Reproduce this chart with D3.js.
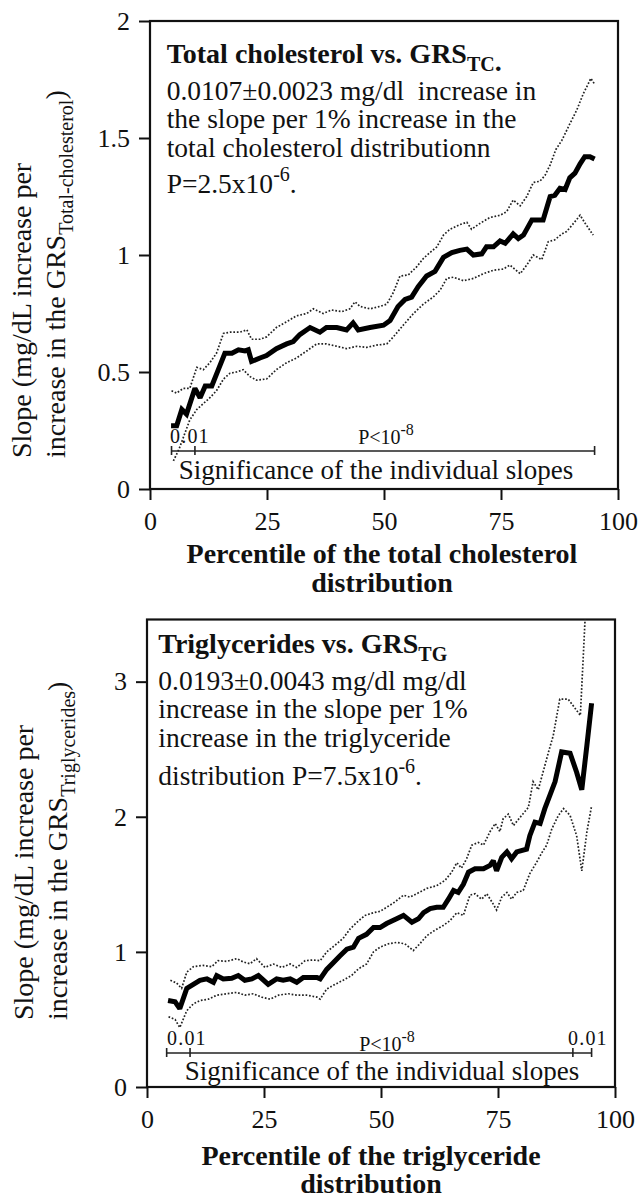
<!DOCTYPE html>
<html><head><meta charset="utf-8">
<script src="https://cdn.jsdelivr.net/npm/d3@7"></script>
<style>
html,body{margin:0;padding:0;background:#fff;}
svg text{font-family:'Liberation Serif','Times New Roman',Times,serif;fill:#111;white-space:pre;}
</style></head>
<body>
<svg id="chart" width="638" height="1199"></svg>
<script>
// ---------------- DATA ----------------
const xTicks = [0, 25, 50, 75, 100];
const xTickLabels = ["0", "25", "50", "75", "100"];
const yTicksTC = [0, 0.5, 1, 1.5, 2];
const yTickLabelsTC = ["0", "0.5", "1", "1.5", "2"];
const yTicksTG = [0, 1, 2, 3];
const yTickLabelsTG = ["0", "1", "2", "3"];

// Total cholesterol panel: [percentile, slope]
const tcMain = [[4.5,0.27],[5.7,0.27],[6.8,0.34],[7.8,0.32],[9.6,0.43],[10.7,0.39],[11.8,0.44],[13.2,0.44],[14.6,0.51],[16,0.58],[17.5,0.58],[18.9,0.595],[20.3,0.59],[21,0.595],[21.7,0.545],[23.5,0.56],[24.9,0.57],[27,0.60],[29.2,0.62],[30.6,0.63],[32,0.66],[34.2,0.69],[36.3,0.67],[37.7,0.69],[39.9,0.69],[42,0.68],[43.4,0.71],[44.5,0.68],[47,0.69],[49.9,0.70],[51.3,0.72],[53,0.78],[54.5,0.81],[55.9,0.82],[57.3,0.865],[59.1,0.91],[60.9,0.93],[62.7,0.99],[64.5,1.01],[66.2,1.02],[67.7,1.025],[69.1,1.00],[70.9,1.005],[71.9,1.035],[73.4,1.035],[74.8,1.06],[75.9,1.05],[77.6,1.09],[78.7,1.07],[79.8,1.085],[81.6,1.15],[83,1.15],[84,1.15],[85.5,1.25],[86.5,1.255],[87.6,1.285],[88.7,1.28],[89.7,1.33],[90.8,1.35],[91.9,1.39],[92.9,1.42],[94,1.42],[95,1.41]];
const tcUpper = [[4.6,0.42],[5.7,0.41],[7.1,0.43],[8.5,0.43],[10,0.52],[11.4,0.51],[12.8,0.54],[14.2,0.58],[15.7,0.665],[17.1,0.67],[19.2,0.67],[20.7,0.68],[21.7,0.64],[23.5,0.64],[24.9,0.65],[27,0.69],[29.2,0.715],[31.3,0.74],[33.5,0.75],[34.9,0.77],[37,0.75],[38.8,0.765],[41,0.758],[42.7,0.77],[43.8,0.80],[44.9,0.78],[47,0.77],[49.1,0.78],[50.6,0.79],[52,0.84],[53.4,0.91],[55.2,0.915],[57,0.95],[58.4,0.985],[59.8,1.01],[61.3,1.035],[62.7,1.085],[64.1,1.11],[66.2,1.13],[67.7,1.14],[68.7,1.11],[70.5,1.135],[72.6,1.16],[74.8,1.17],[76.2,1.185],[77.6,1.235],[79.1,1.21],[80.5,1.25],[81.9,1.31],[83.3,1.315],[84.4,1.34],[85.5,1.385],[86.7,1.45],[88,1.49],[89.7,1.56],[91.2,1.62],[92.6,1.69],[93.6,1.73],[94.2,1.755],[95,1.73]];
const tcLower = [[5,0.12],[6.2,0.17],[7.3,0.23],[8.5,0.295],[10,0.34],[11.4,0.365],[12.8,0.39],[14.2,0.42],[15.7,0.47],[17.1,0.495],[18.5,0.50],[19.9,0.51],[21.4,0.48],[22.8,0.465],[24.9,0.47],[27,0.51],[29.2,0.54],[31.3,0.56],[33.5,0.59],[35.6,0.62],[37.7,0.62],[39.9,0.61],[42,0.60],[44.2,0.61],[46.3,0.605],[48.4,0.615],[50.6,0.62],[52,0.65],[54.1,0.70],[56.3,0.75],[58.4,0.79],[60.5,0.82],[62,0.85],[63.4,0.90],[64.8,0.905],[67,0.89],[69.1,0.90],[71.2,0.92],[73.4,0.935],[75.5,0.94],[76.9,0.957],[79.1,0.92],[80.5,0.957],[81.9,1.0],[83.7,0.98],[85.1,1.057],[86.5,1.065],[88,1.09],[89,1.10],[90.5,1.135],[91.9,1.17],[93,1.135],[94.7,1.085]];

// Triglyceride panel: [percentile, slope]
const tgMain = [[4.5,0.64],[6,0.63],[7,0.58],[8.5,0.73],[9.9,0.76],[11.3,0.79],[12.8,0.80],[14.2,0.775],[14.9,0.825],[16.3,0.80],[18.1,0.805],[19.5,0.825],[20.9,0.79],[22.4,0.80],[23.8,0.825],[25.9,0.76],[27.7,0.80],[29.1,0.79],[30.6,0.80],[32,0.775],[33.4,0.81],[34.8,0.81],[36.3,0.81],[37,0.80],[38.4,0.87],[39.8,0.92],[41.2,0.97],[42.7,1.02],[44.1,1.035],[45.2,1.10],[46.9,1.13],[48.4,1.18],[49.8,1.18],[51.2,1.21],[53,1.24],[54.8,1.27],[56.6,1.22],[58,1.245],[59.1,1.29],[60.5,1.32],[61.9,1.33],[63.3,1.33],[64.4,1.39],[65.5,1.455],[66.5,1.44],[67.6,1.50],[68.7,1.59],[70.1,1.615],[71.9,1.615],[73.3,1.64],[74,1.675],[74.7,1.60],[75.8,1.70],[76.9,1.74],[77.9,1.69],[79,1.74],[81.1,1.76],[81.8,1.86],[82.9,1.96],[84,1.95],[85,2.06],[86.1,2.16],[87.2,2.26],[88.6,2.48],[90.4,2.47],[91.8,2.33],[92.9,2.20],[94,2.53],[95,2.84]];
const tgUpper = [[5,0.79],[6.3,0.77],[7.4,0.73],[8.5,0.85],[9.9,0.89],[12,0.90],[13.8,0.89],[15.2,0.935],[17,0.93],[19.2,0.95],[20.6,0.925],[22,0.912],[23.4,0.95],[25.2,0.885],[27,0.91],[28.8,0.885],[30.6,0.91],[32,0.885],[33.8,0.935],[35.5,0.94],[37,0.935],[38.4,1.00],[40.2,1.05],[41.9,1.10],[43.4,1.17],[45.2,1.23],[46.6,1.27],[48.4,1.29],[49.8,1.30],[51.2,1.33],[53,1.37],[54.8,1.42],[56.2,1.405],[57.6,1.43],[59.8,1.47],[61.9,1.49],[63.7,1.53],[65.1,1.59],[66.2,1.66],[67.2,1.62],[68.3,1.69],[69.4,1.79],[70.8,1.81],[71.9,1.79],[73.3,1.89],[74.4,1.95],[75.4,1.89],[76.1,1.985],[77.2,2.02],[78.3,1.935],[79.7,1.995],[81.5,2.07],[82.5,2.26],[83.6,2.20],[84.7,2.34],[85.8,2.48],[86.8,2.60],[88.2,2.87],[90,2.87],[91.1,2.82],[92.6,2.75],[93.8,3.6],[94.2,4.2]];
const tgLower = [[4.6,0.52],[6,0.50],[7,0.44],[8.5,0.565],[9.9,0.615],[11.3,0.64],[13.1,0.65],[14.9,0.68],[17,0.69],[19.2,0.70],[20.9,0.68],[22.7,0.69],[24.5,0.665],[26.3,0.65],[28.1,0.68],[30.2,0.69],[32,0.68],[34.1,0.68],[36.3,0.665],[37,0.65],[38.4,0.725],[40.2,0.76],[41.9,0.79],[43.7,0.825],[45.2,0.875],[46.9,0.91],[48.4,1.00],[49.8,1.035],[51.6,1.06],[53.3,1.07],[55.1,1.06],[56.9,1.01],[58.3,1.06],[59.8,1.12],[61.5,1.16],[63.3,1.195],[64.7,1.23],[66.2,1.29],[67.6,1.27],[69,1.42],[70.1,1.43],[71.5,1.39],[72.6,1.43],[73.7,1.37],[74.7,1.31],[75.8,1.405],[76.9,1.44],[77.9,1.39],[79,1.44],[80.4,1.455],[81.8,1.58],[83.2,1.66],[84.3,1.73],[85.4,1.79],[86.5,1.91],[87.9,2.01],[89,2.06],[90.4,2.01],[91.8,1.86],[92.9,1.60],[94,1.89],[95,2.08]];

// significance bars: [start, end] percentiles and tick percentiles
const tcSigRange = [4.6, 95];
const tcSigTicks = [4.6, 9.6, 95];
const tgSigRange = [4.2, 95];
const tgSigTicks = [4.2, 9.2, 91, 95];

// ---------------- DRAW ----------------
const svg = d3.select("#chart");
const FONT = "'Liberation Serif','Times New Roman',Times,serif";

const panels = [
  {id:"tc", left:150, right:618, top:21, bottom:489, yDomain:[0,2], yTicks:yTicksTC, yLabels:yTickLabelsTC,
   main:tcMain, upper:tcUpper, lower:tcLower, sigRange:tcSigRange, sigTicks:tcSigTicks, sigY:451,
   sigLeftLabel:[170,443], sigRightLabel:null, pLabel:[386,444], sigTextX:376, sigTextY:479,
   textX:166.7, titleY:63, lineYs:[100,128.3,156.7,193.3],
   title:"Total cholesterol vs. GRS", titleSub:"TC", titleEnd:".",
   lines:["0.0107\u00b10.0023 mg/dl  increase in","the slope per 1% increase in the","total cholesterol distributionn"],
   lastLine:"P=2.5x10",
   ylabX:[31,65], ylabStart:458, ylabSub:"Total-cholesterol",
   xlabCenter:382, xlabY:[563,592], xlab1:"Percentile of the total cholesterol"},
  {id:"tg", left:147, right:615, top:619.5, bottom:1087, yDomain:[0,3.46], yTicks:yTicksTG, yLabels:yTickLabelsTG,
   main:tgMain, upper:tgUpper, lower:tgLower, sigRange:tgSigRange, sigTicks:tgSigTicks, sigY:1053,
   sigLeftLabel:[167,1045], sigRightLabel:[568,1045], pLabel:[387,1051], sigTextX:382, sigTextY:1080,
   textX:158.3, titleY:653.3, lineYs:[690,718.3,746.7,785],
   title:"Triglycerides vs. GRS", titleSub:"TG", titleEnd:"",
   lines:["0.0193\u00b10.0043 mg/dl mg/dl","increase in the slope per 1%","increase in the triglyceride"],
   lastLine:"distribution P=7.5x10",
   ylabX:[33,67], ylabStart:1020, ylabSub:"Triglycerides",
   xlabCenter:371, xlabY:[1165,1193], xlab1:"Percentile of the triglyceride"}
];

panels.forEach(p => {
  const x = d3.scaleLinear().domain([0,100]).range([p.left, p.right]);
  const y = d3.scaleLinear().domain(p.yDomain).range([p.bottom, p.top]);
  const g = svg.append("g");

  // clip
  svg.append("clipPath").attr("id","clip-"+p.id).append("rect")
    .attr("x",p.left).attr("y",p.top).attr("width",p.right-p.left).attr("height",p.bottom-p.top);

  // axes
  const ya = g.append("g").attr("transform",`translate(${p.left},0)`)
    .call(d3.axisLeft(y).tickValues(p.yTicks).tickFormat((d,i)=>p.yLabels[i]).tickSize(11).tickPadding(9));
  const xa = g.append("g").attr("transform",`translate(0,${p.bottom})`)
    .call(d3.axisBottom(x).tickValues(xTicks).tickFormat((d,i)=>xTickLabels[i]).tickSize(11).tickPadding(12));
  [ya, xa].forEach(a => {
    a.selectAll("path.domain").remove();
    a.selectAll("line").attr("stroke","#111").attr("stroke-width",2);
    a.selectAll("text").attr("font-family",FONT).attr("font-size",26).attr("fill","#111");
  });

  // frame
  g.append("rect").attr("x",p.left).attr("y",p.top).attr("width",p.right-p.left).attr("height",p.bottom-p.top)
    .attr("fill","none").attr("stroke","#111").attr("stroke-width",2.2);

  // lines
  const line = d3.line().x(d=>x(d[0])).y(d=>y(d[1]));
  const lg = g.append("g").attr("clip-path",`url(#clip-${p.id})`);
  [p.upper, p.lower].forEach(s => {
    lg.append("path").attr("d",line(s)).attr("fill","none").attr("stroke","#222")
      .attr("stroke-width",1.7).attr("stroke-dasharray","1.7,1.8");
  });
  lg.append("path").attr("d",line(p.main)).attr("fill","none").attr("stroke","#000")
    .attr("stroke-width",5).attr("stroke-linejoin","miter").attr("stroke-miterlimit",2);

  // significance bar
  g.append("line").attr("x1",x(p.sigRange[0])).attr("x2",x(p.sigRange[1]))
    .attr("y1",p.sigY).attr("y2",p.sigY).attr("stroke","#222").attr("stroke-width",1.6);
  p.sigTicks.forEach(t => {
    g.append("line").attr("x1",x(t)).attr("x2",x(t)).attr("y1",p.sigY-5).attr("y2",p.sigY+4)
      .attr("stroke","#222").attr("stroke-width",1.6);
  });
  const small = (xx,yy,txt) => g.append("text").attr("x",xx).attr("y",yy).attr("font-size",20)
    .attr("letter-spacing",1.2).text(txt);
  small(p.sigLeftLabel[0],p.sigLeftLabel[1],"0.01");
  if (p.sigRightLabel) small(p.sigRightLabel[0],p.sigRightLabel[1],"0.01");
  const pt = g.append("text").attr("x",p.pLabel[0]).attr("y",p.pLabel[1]).attr("font-size",20).attr("text-anchor","middle");
  pt.append("tspan").text("P<10");
  pt.append("tspan").attr("font-size",16).attr("dy",-9).text("-8");
  g.append("text").attr("x",p.sigTextX).attr("y",p.sigTextY).attr("font-size",27).attr("text-anchor","middle")
    .text("Significance of the individual slopes");

  // in-plot annotation
  const t = g.append("text").attr("x",p.textX).attr("y",p.titleY).attr("font-size",28).attr("font-weight","bold");
  t.append("tspan").text(p.title);
  t.append("tspan").attr("font-size",20).attr("dy",8).text(p.titleSub);
  if (p.titleEnd) t.append("tspan").text(p.titleEnd);
  p.lines.forEach((l,i) => {
    g.append("text").attr("x",p.textX).attr("y",p.lineYs[i]).attr("font-size",27.5).text(l);
  });
  const ll = g.append("text").attr("x",p.textX).attr("y",p.lineYs[3]).attr("font-size",27.5);
  ll.append("tspan").text(p.lastLine);
  ll.append("tspan").attr("font-size",20).attr("dy",-12).text("-6");
  ll.append("tspan").attr("dy",12).text(".");

  // y label (rotated)
  g.append("text").attr("transform",`translate(${p.ylabX[0]},${p.ylabStart}) rotate(-90)`)
    .attr("font-size",28).text("Slope (mg/dL increase per");
  const yl2 = g.append("text").attr("transform",`translate(${p.ylabX[1]},${p.ylabStart}) rotate(-90)`)
    .attr("font-size",28);
  yl2.append("tspan").text("increase in the GRS");
  yl2.append("tspan").attr("font-size",20).attr("dy",8).text(p.ylabSub);
  yl2.append("tspan").attr("dy",-8).text(")");

  // x label
  g.append("text").attr("x",p.xlabCenter).attr("y",p.xlabY[0]).attr("font-size",28).attr("font-weight","bold")
    .attr("text-anchor","middle").text(p.xlab1);
  g.append("text").attr("x",p.xlabCenter).attr("y",p.xlabY[1]).attr("font-size",28).attr("font-weight","bold")
    .attr("text-anchor","middle").text("distribution");
});
</script>
</body></html>
